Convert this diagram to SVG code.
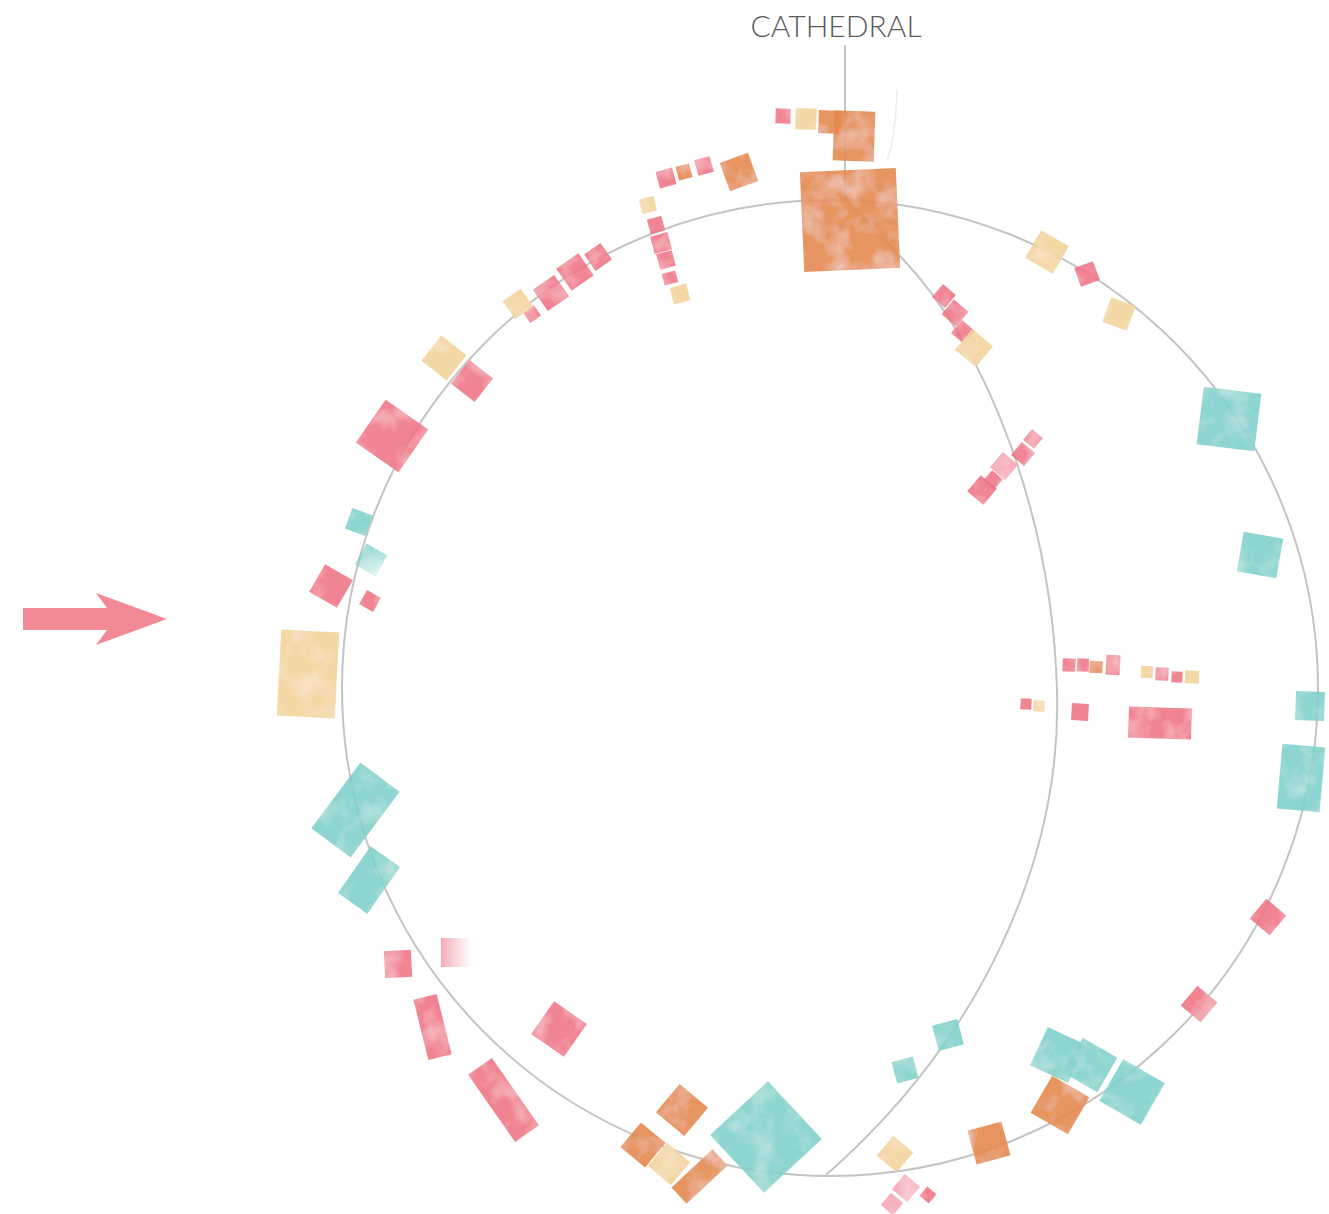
<svg xmlns="http://www.w3.org/2000/svg" width="1329" height="1214" viewBox="0 0 1329 1214">
<defs>
<style>
.p{fill:#ef7384;fill-opacity:.88}
.pl{fill:#f4a3b1;fill-opacity:.85}
.o{fill:#e4894f;fill-opacity:.9}
.t{fill:#f2d39b;fill-opacity:.9}
.c{fill:#7ccfca;fill-opacity:.88}
.line{fill:none;stroke:#c4c4c4;stroke-width:2}
.lbl{font-family:Lato,"Open Sans","Liberation Sans",sans-serif;font-size:30px;font-weight:300;fill:#5a5a5a;text-anchor:middle}
</style>
<filter id="wc" x="-10%" y="-10%" width="120%" height="120%">
<feTurbulence type="fractalNoise" baseFrequency="0.04" numOctaves="3" seed="4" result="n"/>
<feColorMatrix in="n" type="matrix" values="0 0 0 0 1 0 0 0 0 1 0 0 0 0 1 0.8 0 0 0 -0.36" result="w"/>
<feComposite in="w" in2="SourceGraphic" operator="in" result="wi"/>
<feMerge><feMergeNode in="SourceGraphic"/><feMergeNode in="wi"/></feMerge>
</filter>
<linearGradient id="pfade" x1="0" y1="0" x2="1" y2="0">
<stop offset="0" stop-color="#ef7384" stop-opacity=".6"/>
<stop offset="0.45" stop-color="#ef7384" stop-opacity="0"/>
</linearGradient>
<linearGradient id="cfade" x1="0" y1="0" x2="1" y2="1">
<stop offset="0" stop-color="#7ccfca" stop-opacity=".9"/>
<stop offset="1" stop-color="#7ccfca" stop-opacity=".2"/>
</linearGradient>
</defs>
<rect width="1329" height="1214" fill="#ffffff"/>

<g id="connectors">
<circle class="line" cx="830" cy="688" r="488"/>
<path class="line" d="M845,200 L900,256 C990,350 1052,520 1057,690 C1062,860 980,1040 826,1175"/>
<line class="line" x1="845" y1="45" x2="845" y2="200"/>
<path d="M897,90 C896,120 893,145 887,160" fill="none" stroke="#ececec" stroke-width="1.5"/>
</g>

<g id="label-cathedral">
<text class="lbl" x="836" y="37">CATHEDRAL</text>
</g>

<g id="arrow">
<polygon points="23,608 107,608 96,593 167,619 96,645 107,630 23,630" fill="#f28a96"/>
</g>

<g id="squares" filter="url(#wc)">
<g id="top-cluster">
<rect class="p" x="-7.5" y="-7.5" width="15" height="15" transform="translate(783,116) rotate(2)"/>
<rect class="t" x="-10.5" y="-10.5" width="21" height="21" transform="translate(806,119) rotate(2)"/>
<rect class="o" x="-11.5" y="-11.5" width="23" height="23" transform="translate(830,122) rotate(2)"/>
<rect class="o" x="-20.5" y="-25" width="41" height="50" transform="translate(854,136) rotate(2)"/>
<rect class="o" x="-48" y="-50" width="96" height="100" transform="translate(850,220) rotate(-2.5)"/>
</g>
<g id="top-row">
<rect class="p" x="-8.5" y="-8.5" width="17" height="17" transform="translate(666,178) rotate(-15)"/>
<rect class="o" x="-7" y="-7" width="14" height="14" transform="translate(684,172) rotate(-15)"/>
<rect class="p" x="-8" y="-8" width="16" height="16" transform="translate(704,166) rotate(-15)"/>
<rect class="o" x="-15" y="-15" width="30" height="30" transform="translate(739,172) rotate(-20)"/>
</g>
<g id="chain">
<rect class="t" x="-7.5" y="-7.5" width="15" height="15" transform="translate(648,205) rotate(-15)"/>
<rect class="p" x="-7.5" y="-7.5" width="15" height="15" transform="translate(656,225) rotate(-15)"/>
<rect class="p" x="-9" y="-9" width="18" height="18" transform="translate(661,243) rotate(-15)"/>
<rect class="p" x="-8" y="-8" width="16" height="16" transform="translate(666,260) rotate(-15)"/>
<rect class="p" x="-7" y="-6" width="14" height="12" transform="translate(670,278) rotate(-15)"/>
<rect class="t" x="-8.5" y="-8.5" width="17" height="17" transform="translate(680,294) rotate(-15)"/>
</g>
<g id="arc-cluster">
<rect class="p" x="-10" y="-10" width="20" height="20" transform="translate(598,257) rotate(-35)"/>
<rect class="p" x="-13.5" y="-13.5" width="27" height="27" transform="translate(575,272) rotate(-35)"/>
<rect class="p" x="-13" y="-13" width="26" height="26" transform="translate(551,293) rotate(-35)"/>
<rect class="p" x="-6.5" y="-6.5" width="13" height="13" transform="translate(532,314) rotate(-35)"/>
<rect class="t" x="-11" y="-11" width="22" height="22" transform="translate(518,304) rotate(-35)"/>
</g>
<g id="left-side">
<rect class="t" x="-16" y="-16" width="32" height="32" transform="translate(444,358) rotate(38)"/>
<rect class="p" x="-15" y="-15" width="30" height="30" transform="translate(472,381) rotate(38)"/>
<rect class="p" x="-26" y="-26" width="52" height="52" transform="translate(392,436) rotate(35)"/>
<rect class="c" x="-11" y="-11" width="22" height="22" transform="translate(359,522) rotate(20)"/>
<rect fill="url(#cfade)" x="-12" y="-12" width="24" height="24" transform="translate(371,560) rotate(30)"/>
<rect class="p" x="-16" y="-16" width="32" height="32" transform="translate(331,586) rotate(30)"/>
<rect class="p" x="-8" y="-8" width="16" height="16" transform="translate(370,601) rotate(30)"/>
<rect class="t" x="-29" y="-43" width="58" height="86" transform="translate(308,674) rotate(3)"/>
</g>
<g id="lower-left">
<rect class="c" x="-24.5" y="-41" width="49" height="82" transform="translate(355.5,810) rotate(36.6)"/>
<rect class="c" x="-18" y="-28.5" width="36" height="57" transform="translate(369,880) rotate(35)"/>
<rect class="p" x="-13.5" y="-13.5" width="27" height="27" transform="translate(398,964) rotate(-3)"/>
<rect fill="url(#pfade)" x="441" y="938" width="69" height="29"/>
<rect class="p" x="-12" y="-31" width="24" height="62" transform="translate(432.5,1027) rotate(-14)"/>
<rect class="p" x="-14.5" y="-41" width="29" height="82" transform="translate(503.5,1100) rotate(-35)"/>
<rect class="p" x="-20" y="-20" width="40" height="40" transform="translate(559,1029) rotate(35)"/>
</g>
<g id="bottom">
<rect class="o" x="-18.5" y="-18.5" width="37" height="37" transform="translate(682,1110) rotate(40)"/>
<rect class="o" x="-16" y="-16" width="32" height="32" transform="translate(643,1145) rotate(40)"/>
<rect class="t" x="-15" y="-15" width="30" height="30" transform="translate(669,1164) rotate(40)"/>
<rect class="o" x="-28" y="-11" width="56" height="22" transform="translate(699.5,1176.5) rotate(-43)"/>
<rect class="c" x="-39.5" y="-39.5" width="79" height="79" transform="translate(766,1137) rotate(47)"/>
<rect class="c" x="-11" y="-11" width="22" height="22" transform="translate(905,1070) rotate(-15)"/>
<rect class="c" x="-13" y="-13" width="26" height="26" transform="translate(948,1035) rotate(-15)"/>
<rect class="t" x="-13" y="-13" width="26" height="26" transform="translate(895,1154) rotate(40)"/>
<rect class="pl" x="-10" y="-10" width="20" height="20" transform="translate(906,1188) rotate(40)"/>
<rect class="p" x="-6" y="-6" width="12" height="12" transform="translate(928,1195) rotate(40)"/>
<rect class="pl" x="-8" y="-8" width="16" height="16" transform="translate(892,1204) rotate(40)"/>
<rect class="o" x="-17.5" y="-17.5" width="35" height="35" transform="translate(989,1143) rotate(-15)"/>
</g>
<g id="lower-right">
<rect class="p" x="-13" y="-13" width="26" height="26" transform="translate(1268,917) rotate(40)"/>
<rect class="p" x="-13" y="-13" width="26" height="26" transform="translate(1199,1004) rotate(40)"/>
<rect class="c" x="-21" y="-21" width="42" height="42" transform="translate(1058,1055) rotate(25)"/>
<rect class="c" x="-20" y="-20" width="40" height="40" transform="translate(1090,1065) rotate(30)"/>
<rect class="c" x="-24" y="-24" width="48" height="48" transform="translate(1132,1092) rotate(30)"/>
<rect class="o" x="-21.5" y="-21.5" width="43" height="43" transform="translate(1060,1105) rotate(30)"/>
</g>
<g id="right-side">
<rect class="c" x="-29" y="-29" width="58" height="58" transform="translate(1229,419) rotate(7)"/>
<rect class="c" x="-20" y="-20" width="40" height="40" transform="translate(1260,555) rotate(10)"/>
<rect class="c" x="-14.5" y="-14.5" width="29" height="29" transform="translate(1310,706) rotate(2)"/>
<rect class="c" x="-21.5" y="-32.5" width="43" height="65" transform="translate(1301,778) rotate(5)"/>
</g>
<g id="upper-right">
<rect class="t" x="-16" y="-16" width="32" height="32" transform="translate(1047,252) rotate(30)"/>
<rect class="p" x="-10" y="-10" width="20" height="20" transform="translate(1087,274) rotate(-20)"/>
<rect class="t" x="-13" y="-13" width="26" height="26" transform="translate(1119,314) rotate(20)"/>
<rect class="p" x="-8.5" y="-8.5" width="17" height="17" transform="translate(944,296) rotate(40)"/>
<rect class="p" x="-9.5" y="-9.5" width="19" height="19" transform="translate(955,313) rotate(40)"/>
<rect class="p" x="-8.5" y="-8.5" width="17" height="17" transform="translate(963,332) rotate(40)"/>
<rect class="t" x="-13.5" y="-13.5" width="27" height="27" transform="translate(974,348) rotate(40)"/>
</g>
<g id="inner-cluster">
<rect class="p" x="-7" y="-7" width="14" height="14" transform="translate(1033,439) rotate(40)"/>
<rect class="p" x="-8.5" y="-8.5" width="17" height="17" transform="translate(1023,454) rotate(40)"/>
<rect class="pl" x="-10" y="-10" width="20" height="20" transform="translate(1004,466) rotate(40)"/>
<rect class="p" x="-7" y="-7" width="14" height="14" transform="translate(993,480) rotate(40)"/>
<rect class="p" x="-10.5" y="-10.5" width="21" height="21" transform="translate(982,490) rotate(40)"/>
</g>
<g id="inner-rows">
<rect class="p" x="-6.5" y="-6.5" width="13" height="13" transform="translate(1069,665) rotate(3)"/>
<rect class="p" x="-6" y="-6.5" width="12" height="13" transform="translate(1083,665) rotate(3)"/>
<rect class="o" x="-6.5" y="-6" width="13" height="12" transform="translate(1096,667) rotate(3)"/>
<rect class="p" x="-7" y="-10" width="14" height="20" transform="translate(1113,665) rotate(3)"/>
<rect class="t" x="-6" y="-6" width="12" height="12" transform="translate(1147,672) rotate(3)"/>
<rect class="p" x="-6.5" y="-6.5" width="13" height="13" transform="translate(1162,674) rotate(3)"/>
<rect class="p" x="-5.5" y="-5.5" width="11" height="11" transform="translate(1177,677) rotate(3)"/>
<rect class="t" x="-7" y="-6.5" width="14" height="13" transform="translate(1192,677) rotate(3)"/>
<rect class="p" x="-5.5" y="-5.5" width="11" height="11" transform="translate(1026,704) rotate(3)"/>
<rect class="t" x="-5.5" y="-5.5" width="11" height="11" transform="translate(1039,706) rotate(3)"/>
<rect class="p" x="-8.5" y="-8.5" width="17" height="17" transform="translate(1080,712) rotate(3)"/>
<rect class="p" x="-31.5" y="-15.5" width="63" height="31" transform="translate(1160,723) rotate(2)"/>
</g>
</g>
</svg>
